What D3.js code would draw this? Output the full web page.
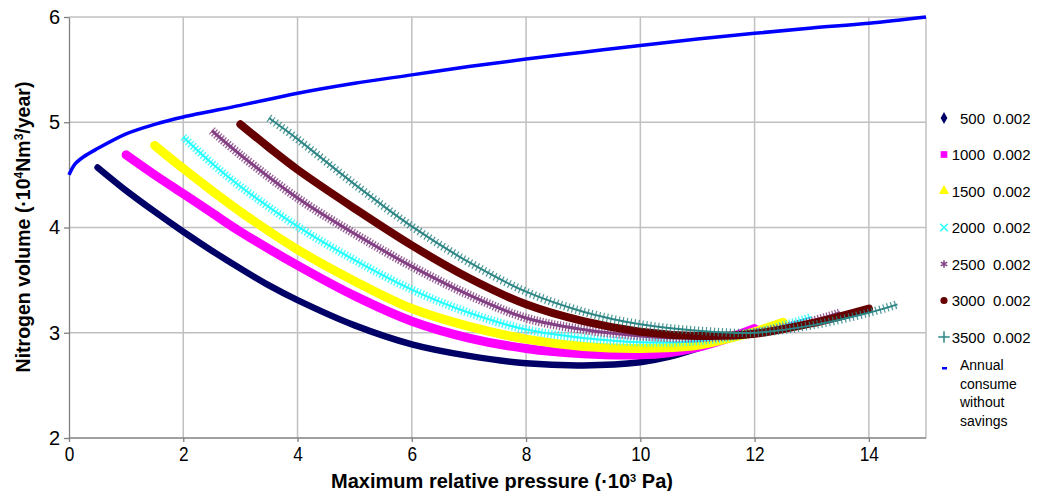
<!DOCTYPE html>
<html>
<head>
<meta charset="utf-8">
<script src="https://cdn.jsdelivr.net/npm/d3@7"></script>
<style>
    body { margin: 0; background: #fff; }
    svg { display: block; font-family: Arial, "Liberation Sans", sans-serif; }
    .grid line { stroke: #c0c0c0; stroke-width: 1.5; }
    .axis path, .axis line { stroke: #808080; stroke-width: 1.3; }
    .axis text { fill: #000; }
</style>
</head>
<body>
<svg id="chart" width="1037" height="491"></svg>
<script>
/**
 * Data. Pressure in 10^3 Pa, volume in 10^4 Nm3/year.
 */
const xTicks = [0, 2, 4, 6, 8, 10, 12, 14],
    yTicks = [2, 3, 4, 5, 6];

const annualConsume = [[0, 4.5], [0.1, 4.6], [0.25, 4.67], [0.5, 4.75], [1, 4.89], [1.5, 4.98], [2, 5.05], [3, 5.16],
    [4, 5.275], [5, 5.37], [6, 5.45], [7, 5.53], [8, 5.6], [9, 5.665], [10, 5.73], [11, 5.79], [12, 5.845],
    [13, 5.895], [14, 5.94], [15, 6.0]];

const s500 = [[0.5, 4.57], [1, 4.35], [1.5, 4.15], [2, 3.96], [2.5, 3.78], [3, 3.61], [3.5, 3.45], [4, 3.31], [5, 3.07],
    [6, 2.89], [7, 2.78], [8, 2.71], [9, 2.69], [10, 2.72], [10.5, 2.77], [11, 2.85], [11.5, 2.95]];
const s1000 = [[1, 4.69], [1.5, 4.5], [2, 4.32], [2.5, 4.14], [3, 3.96], [4, 3.64], [5, 3.35], [6, 3.11], [7, 2.95],
    [8, 2.85], [9, 2.8], [10, 2.79], [10.5, 2.81], [11, 2.86], [11.5, 2.94], [12, 3.04]];
const s1500 = [[1.5, 4.78], [2, 4.56], [2.5, 4.35], [3, 4.15], [4, 3.79], [5, 3.49], [6, 3.23], [7, 3.06], [8, 2.94],
    [9, 2.87], [10, 2.85], [11, 2.88], [11.5, 2.94], [12, 3.01], [12.5, 3.1]];
const s2000 = [[2, 4.86], [2.5, 4.61], [3, 4.39], [4, 4.01], [5, 3.69], [6, 3.41], [7, 3.19], [8, 3.03], [9, 2.95],
    [10, 2.91], [11, 2.92], [12, 3.0], [12.5, 3.07], [13, 3.15]];
const s2500 = [[2.5, 4.92], [3, 4.69], [4, 4.28], [5, 3.94], [6, 3.63], [7, 3.36], [8, 3.14], [9, 3.03], [10, 2.97],
    [11, 2.95], [12, 3.0], [13, 3.11], [13.5, 3.19]];
const s3000 = [[3, 4.98], [3.5, 4.76], [4, 4.55], [5, 4.18], [6, 3.83], [7, 3.52], [8, 3.27], [9, 3.11], [10, 3.01],
    [11, 2.97], [12, 2.99], [13, 3.09], [14, 3.23]];
const s3500 = [[3.5, 5.04], [4, 4.84], [5, 4.41], [6, 4.01], [7, 3.67], [8, 3.39], [9, 3.2], [10, 3.08], [11, 3.02],
    [12, 3.0], [13, 3.07], [14, 3.19], [14.5, 3.27]];

const seriesLabels = ['500', '1000', '1500', '2000', '2500', '3000', '3500'],
    seriesCoef = '0.002',
    annualLabel = ['Annual', 'consume', 'without', 'savings'];

/**
 * Visual configs.
 */
const width = 1037, height = 491,
    plot = { left: 69, right: 926, top: 17, bottom: 438 };

// One style per series: solid band or textured (tick marks) band
const styles = [
    { color: '#000066', w: 6.5, symbol: d3.symbolDiamond, size: 40 },
    { color: '#ff00ff', w: 9, symbol: d3.symbolSquare, size: 45 },
    { color: '#ffff00', w: 9, symbol: d3.symbolTriangle, size: 45 },
    { color: '#22ffff', w: 8.5, tex: '1.3,2', base: 2, symbol: d3.symbolTimes || d3.symbolCross, size: 40, stroke: true },
    { color: '#844084', w: 9, tex: '1.3,1.7', base: 3, symbol: d3.symbolAsterisk || d3.symbolStar, size: 40, stroke: true },
    { color: '#660000', w: 8, symbol: d3.symbolCircle, size: 40 },
    { color: '#2d8585', w: 8.5, tex: '1.2,2.8', base: 2, symbol: d3.symbolPlus || d3.symbolCross, size: 45, stroke: true }
];

const seriesData = [s500, s1000, s1500, s2000, s2500, s3000, s3500];

/**
 * D3.
 */
const svg = d3.select('#chart');
const xScale = d3.scaleLinear().domain([0, 15]).range([plot.left, plot.right]),
    yScale = d3.scaleLinear().domain([2, 6]).range([plot.bottom, plot.top]);

const line = d3.line()
    .x(d => xScale(d[0]))
    .y(d => yScale(d[1]))
    .curve(d3.curveCatmullRom.alpha(0.5));

svg.append('rect').attr('width', width).attr('height', height).attr('fill', '#fff');

// Grid
const grid = svg.append('g').attr('class', 'grid');
grid.selectAll('.gx').data(xTicks.slice(1).concat([15])).enter().append('line')
    .attr('x1', d => xScale(d)).attr('x2', d => xScale(d))
    .attr('y1', plot.top).attr('y2', plot.bottom);
grid.selectAll('.gy').data(yTicks.slice(1)).enter().append('line')
    .attr('x1', plot.left).attr('x2', plot.right)
    .attr('y1', d => yScale(d)).attr('y2', d => yScale(d));

// Axes
const yAxis = svg.append('g').attr('class', 'axis')
    .attr('transform', 'translate(' + plot.left + ',0)')
    .call(d3.axisLeft(yScale).tickValues(yTicks).tickFormat(d3.format('d'))
        .tickSize(5).tickPadding(4).tickSizeOuter(0));
yAxis.selectAll('text').style('font-size', '20px');

const xAxis = svg.append('g').attr('class', 'axis')
    .attr('transform', 'translate(0,' + plot.bottom + ')')
    .call(d3.axisBottom(xScale).tickValues(xTicks).tickFormat(d3.format('d'))
        .tickSize(4).tickPadding(4).tickSizeOuter(0));
xAxis.selectAll('text').style('font-size', '21px').attr('transform', 'scale(0.82,1)');
xAxis.select('.domain').attr('d', 'M' + plot.left + ',0H' + plot.right);

// Series
const seriesG = svg.append('g').attr('class', 'series');
seriesData.forEach((data, i) => {
    const s = styles[i];
    const g = seriesG.append('g');
    if (s.tex) {
        g.append('path').datum(data).attr('d', line)
            .attr('fill', 'none').attr('stroke', s.color).attr('stroke-width', s.base);
        g.append('path').datum(data).attr('d', line)
            .attr('fill', 'none').attr('stroke', s.color).attr('stroke-width', s.w)
            .attr('stroke-dasharray', s.tex).attr('opacity', 0.85);
    } else {
        g.append('path').datum(data).attr('d', line)
            .attr('fill', 'none').attr('stroke', s.color).attr('stroke-width', s.w)
            .attr('stroke-linecap', 'round');
    }
});

// Annual consume without savings
seriesG.append('path').datum(annualConsume).attr('d', line)
    .attr('fill', 'none').attr('stroke', '#0000ff').attr('stroke-width', 3.5);

// Axis titles
svg.append('text')
    .attr('transform', 'translate(30,227) rotate(-90)')
    .attr('text-anchor', 'middle')
    .style('font-size', '19.5px').style('font-weight', 'bold')
    .call(t => {
        t.append('tspan').text('Nitrogen volume  (·10');
        t.append('tspan').attr('baseline-shift', 'super').style('font-size', '12px').text('4');
        t.append('tspan').text('Nm');
        t.append('tspan').attr('baseline-shift', 'super').style('font-size', '12px').text('3');
        t.append('tspan').text('/year)');
    });

svg.append('text')
    .attr('transform', 'translate(502,488)')
    .attr('text-anchor', 'middle')
    .style('font-size', '20px').style('font-weight', 'bold')
    .call(t => {
        t.append('tspan').text('Maximum relative pressure (·10');
        t.append('tspan').attr('baseline-shift', 'super').style('font-size', '11px').text('3');
        t.append('tspan').text(' Pa)');
    });

// Legend
const legend = svg.append('g').attr('class', 'legend').style('font-size', '15px');
seriesLabels.forEach((label, i) => {
    const s = styles[i], cy = 118 + i * 36.5;
    const sym = d3.symbol().type(s.symbol).size(s.size);
    legend.append('path')
        .attr('transform', 'translate(944,' + cy + ')')
        .attr('d', sym)
        .attr('fill', s.stroke ? 'none' : s.color)
        .attr('stroke', s.stroke ? s.color : 'none')
        .attr('stroke-width', 1.5);
    legend.append('text').attr('x', 985).attr('y', cy + 5.5).attr('text-anchor', 'end').text(label);
    legend.append('text').attr('x', 993).attr('y', cy + 5.5).text(seriesCoef);
});
legend.append('rect').attr('x', 942).attr('y', 367).attr('width', 5).attr('height', 2.5).attr('fill', '#0000ff');
annualLabel.forEach((t, i) => {
    legend.append('text').attr('x', 960).attr('y', 370 + i * 18.5).style('font-size', '14px').text(t);
});
</script>
</body>
</html>
